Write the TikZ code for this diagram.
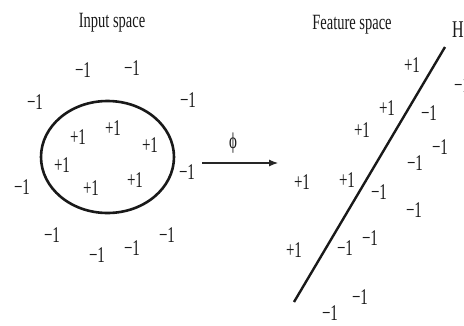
\documentclass[tikz,border=0pt]{standalone}
\usepackage{fontspec}
\setmainfont{Liberation Serif}
\usetikzlibrary{arrows.meta}
\newcommand\mylab[1]{\scalebox{1}[1.5]{#1}}
\tikzset{
  lbl/.style={font=\fontsize{15}{17}\selectfont, text=black!90, inner sep=0pt},
  ttl/.style={font=\fontsize{14.5}{17}\selectfont, text=black!90, inner sep=0pt},
  bound/.style={draw=black!90, line width=2.6pt},
  maparrow/.style={draw=black!85, line width=1.1pt, -{Latex[length=9pt,width=7pt]}}
}
\begin{document}
\begin{tikzpicture}[x=1pt,y=-1pt]
\useasboundingbox (0,0) rectangle (464,325);
\fill[white] (0,0) rectangle (464,325);
% Input space
\node[ttl] (tin) at (112,23) {\mylab{Input space}};
\draw[bound] (107.5,157) ellipse [x radius=66.5, y radius=56];
\node[lbl] (i1) at (83,70) {\mylab{−1}};
\node[lbl] (i2) at (132,68) {\mylab{−1}};
\node[lbl] (i3) at (35,102) {\mylab{−1}};
\node[lbl] (i4) at (188,100) {\mylab{−1}};
\node[lbl] (i5) at (78,137) {\mylab{+1}};
\node[lbl] (i6) at (113,128) {\mylab{+1}};
\node[lbl] (i7) at (150,145) {\mylab{+1}};
\node[lbl] (i8) at (62,165) {\mylab{+1}};
\node[lbl] (i9) at (91,188) {\mylab{+1}};
\node[lbl] (i10) at (135,180) {\mylab{+1}};
\node[lbl] (i11) at (22,187) {\mylab{−1}};
\node[lbl] (i12) at (187,172) {\mylab{−1}};
\node[lbl] (i13) at (52,235) {\mylab{−1}};
\node[lbl] (i14) at (97,255) {\mylab{−1}};
\node[lbl] (i15) at (132,248) {\mylab{−1}};
\node[lbl] (i16) at (167,235) {\mylab{−1}};
% mapping
\coordinate (a1) at (202,163);
\coordinate (a2) at (278,163);
\draw[maparrow] (a1) -- (a2);
\node[lbl] (phi) at (233,143) {\mylab{ϕ}};
% Feature space
\node[ttl] (tft) at (352,25) {\mylab{Feature space}};
\node[ttl,font=\fontsize{16}{18}\selectfont] (hyp) at (458,30) {\mylab{H}};
\coordinate (l1) at (294,302);
\coordinate (l2) at (445,47);
\draw[bound, line width=2.4pt] (l1) -- (l2);
\node[lbl] (f1) at (412,65) {\mylab{+1}};
\node[lbl] (f2) at (462,85) {\mylab{−1}};
\node[lbl] (f3) at (387,108) {\mylab{+1}};
\node[lbl] (f4) at (429,113) {\mylab{−1}};
\node[lbl] (f5) at (362,130) {\mylab{+1}};
\node[lbl] (f6) at (440,147) {\mylab{−1}};
\node[lbl] (f7) at (415,163) {\mylab{−1}};
\node[lbl] (f8) at (302,182) {\mylab{+1}};
\node[lbl] (f9) at (347,180) {\mylab{+1}};
\node[lbl] (f10) at (379,192) {\mylab{−1}};
\node[lbl] (f11) at (414,210) {\mylab{−1}};
\node[lbl] (f12) at (294,250) {\mylab{+1}};
\node[lbl] (f13) at (345,248) {\mylab{−1}};
\node[lbl] (f14) at (370,238) {\mylab{−1}};
\node[lbl] (f15) at (360,297) {\mylab{−1}};
\node[lbl] (f16) at (330,313) {\mylab{−1}};
\end{tikzpicture}
\end{document}
